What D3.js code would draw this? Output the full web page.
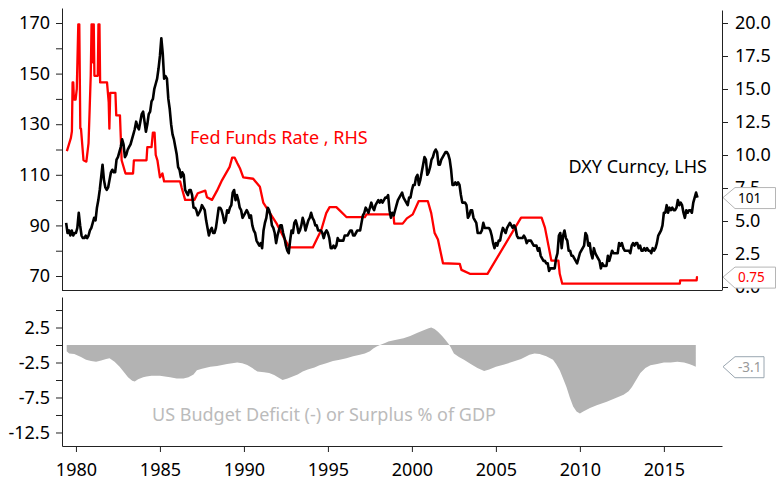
<!DOCTYPE html>
<head>
    <style>
        * {
            padding: 0;
            margin: 0;
        }
        body {
            background: white;
        }
        svg text {
            font-family: "Noto Sans", sans-serif;
        }
    </style>
    <script src="https://cdn.jsdelivr.net/npm/d3@7"></script>
</head>

<body>
    <script>

        /////////////////////////////////////////////////////
        // DATA
        /////////////////////////////////////////////////////

        //DXY monthly, from Jun 1979 to Jan 2017
        const dxyStart = 1979 + 5 / 12
        const dxyValues = [
            91, 87, 88, 86, 88, 86, 87,
            87, 89, 95, 90, 86, 85, 85, 86, 85, 86, 88, 89,
            91, 93, 92, 97, 100, 104, 109, 114, 108, 105, 104, 105,
            108, 111, 112, 111, 111, 116, 117, 119, 121, 124, 122, 117,
            118, 120, 121, 122, 124, 126, 128, 131, 129, 128, 131, 134,
            135, 131, 127, 130, 134, 135, 139, 140, 144, 146, 148, 152,
            157, 164, 158, 148, 149, 148, 140, 136, 130, 126, 124, 121,
            118, 113, 112, 109, 111, 110, 104, 103, 102, 104, 104, 102,
            97, 97, 96, 94, 95, 96, 98, 97, 96, 92, 89, 86,
            88, 89, 87, 87, 89, 93, 97, 97, 96, 94, 91, 92,
            96, 95, 97, 98, 103, 104, 100, 102, 100, 97, 96, 93,
            94, 95, 96, 95, 93, 94, 90, 88, 87, 84, 83, 82,
            83, 81, 88, 91, 93, 97, 96, 94, 90, 89, 87, 83,
            86, 88, 90, 90, 87, 85, 82, 80, 79, 84, 88, 87,
            91, 92, 90, 87, 88, 90, 93, 91, 88, 90, 92, 93,
            95, 93, 92, 90, 90, 88, 88, 88, 87, 85, 87, 88,
            87, 85, 81, 81, 82, 81, 82, 85, 84, 84, 84, 84,
            86, 86, 86, 87, 88, 88, 86, 86, 87, 88, 88, 88,
            91, 94, 95, 97, 96, 95, 97, 99, 97, 96, 98, 99,
            100, 99, 100, 99, 100, 101, 101, 102, 96, 93, 95, 94,
            96, 98, 100, 101, 102, 103, 101, 100, 99, 98, 101, 101,
            104, 106, 106, 109, 110, 106, 108, 111, 114, 117, 116, 110,
            111, 113, 116, 117, 119, 120, 119, 114, 114, 116, 117, 118,
            119, 119, 118, 116, 112, 106, 106, 107, 106, 107, 106, 102,
            99, 99, 99, 98, 93, 94, 96, 96, 93, 92, 91, 87,
            87, 87, 88, 91, 89, 89, 89, 89, 88, 86, 83, 81,
            83, 82, 84, 84, 87, 89, 88, 87, 89, 90, 91, 90,
            89, 90, 89, 86, 85, 85, 85, 85, 86, 85, 83, 84,
            84, 84, 83, 82, 82, 82, 80, 81, 78, 77, 76, 76,
            75, 75, 72, 73, 73, 73, 73, 77, 79, 86, 87, 81,
            86, 88, 85, 84, 80, 80, 78, 78, 77, 76, 75, 77,
            79, 80, 81, 82, 87, 86, 82, 83, 79, 77, 81, 79,
            78, 77, 76, 73, 75, 74, 74, 74, 78, 76, 78, 80,
            79, 79, 79, 79, 83, 82, 83, 81, 80, 80, 80, 80,
            79, 82, 83, 82, 83, 83, 81, 82, 80, 80, 81, 80,
            81, 80, 80, 79, 81, 80, 81, 83, 86, 87, 88, 90,
            95, 95, 98, 95, 97, 96, 97, 96, 96, 97, 100, 98,
            99, 98, 95, 93, 96, 95, 96, 96, 95, 99, 101, 103,
            101
        ]

        //Fed funds rate, change points
        const ffYears = [
            1979.46, 1979.70, 1979.76, 1979.80, 1979.84, 1979.88, 1979.98, 1980.05, 1980.14, 1980.20,
            1980.26, 1980.30, 1980.45, 1980.62, 1980.75, 1980.82, 1980.88, 1980.93, 1980.98, 1981.02,
            1981.06, 1981.10, 1981.30, 1981.34, 1981.40, 1981.44, 1981.85, 1981.95, 1981.99, 1982.04,
            1982.35, 1982.40, 1982.62, 1982.72, 1982.95, 1983.40, 1983.45, 1984.20, 1984.25, 1984.50,
            1984.58, 1984.68, 1984.75, 1984.85, 1985.00, 1985.15, 1985.25, 1986.20, 1986.30, 1986.50,
            1987.05, 1987.25, 1987.70, 1987.80, 1988.10, 1988.40, 1988.70, 1989.15, 1989.30, 1989.45,
            1989.60, 1989.76, 1989.96, 1990.55, 1990.95, 1991.15, 1991.55, 1991.95, 1992.35, 1992.70,
            1994.10, 1994.33, 1994.60, 1994.90, 1995.10, 1995.50, 1995.70, 1996.10, 1997.20, 1997.30,
            1998.90, 1998.95, 1999.45, 1999.70, 2000.05, 2000.40, 2000.95, 2001.15, 2001.35, 2001.55,
            2001.85, 2002.85, 2002.95, 2003.45, 2004.50, 2006.50, 2007.72, 2007.92, 2008.15, 2008.30,
            2008.72, 2008.80, 2008.95, 2015.95, 2015.97, 2016.95, 2016.97, 2017.02
        ]
        const ffRates = [
            10.3, 11.3, 11.8, 15.5, 15.5, 14.2, 14.2, 15.0, 19.9, 19.9,
            12.0, 12.0, 9.6, 9.5, 10.9, 13.6, 16.0, 19.9, 19.9, 17.0,
            19.9, 16.0, 16.0, 19.9, 19.9, 15.5, 15.5, 14.0, 12.0, 14.7,
            14.7, 13.0, 13.0, 9.6, 8.6, 8.6, 9.6, 9.6, 10.6, 10.6,
            11.7, 11.7, 10.0, 9.6, 8.3, 8.6, 8.0, 8.0, 7.5, 6.6,
            6.6, 7.1, 7.3, 6.8, 6.6, 7.3, 8.1, 9.1, 9.8, 9.8,
            9.4, 9.0, 8.3, 8.2, 7.6, 6.4, 5.6, 4.8, 3.8, 3.0,
            3.0, 3.6, 4.3, 5.6, 6.05, 6.05, 5.8, 5.3, 5.3, 5.5,
            5.5, 4.8, 4.8, 5.2, 5.5, 6.5, 6.5, 5.6, 4.1, 3.6,
            1.8, 1.75, 1.3, 1.0, 1.0, 5.25, 5.25, 4.5, 3.0, 2.0,
            2.0, 1.0, 0.25, 0.25, 0.5, 0.5, 0.75, 0.75
        ]

        //US budget balance, % of GDP
        const budgetYears = [
            1979.45, 1979.6, 1979.9, 1980.3, 1980.6, 1980.9, 1981.2, 1981.5, 1981.8, 1982.0,
            1982.3, 1982.6, 1982.9, 1983.1, 1983.35, 1983.5, 1983.7, 1984.0, 1984.2, 1984.5,
            1984.8, 1985.0, 1985.3, 1985.6, 1986.0, 1986.4, 1986.7, 1987.0, 1987.2, 1987.5,
            1988.0, 1988.4, 1988.7, 1989.0, 1989.3, 1989.6, 1989.9, 1990.2, 1990.5, 1990.8,
            1991.2, 1991.5, 1991.8, 1992.1, 1992.3, 1992.6, 1992.9, 1993.2, 1993.5, 1993.8,
            1994.2, 1994.5, 1994.9, 1995.3, 1995.7, 1996.1, 1996.5, 1996.9, 1997.2, 1997.5,
            1997.7, 1997.9, 1998.1, 1998.4, 1998.6, 1999.0, 1999.5, 1999.9, 2000.3, 2000.7,
            2001.0, 2001.15, 2001.35, 2001.55, 2001.8, 2002.0, 2002.2, 2002.3, 2002.5, 2002.8,
            2003.1, 2003.5, 2003.9, 2004.3, 2004.6, 2005.0, 2005.5, 2006.0, 2006.5, 2007.0,
            2007.3, 2007.6, 2008.0, 2008.4, 2008.6, 2008.8, 2009.0, 2009.2, 2009.4, 2009.6,
            2009.8, 2010.0, 2010.2, 2010.6, 2011.0, 2011.6, 2012.1, 2012.6, 2012.9, 2013.1,
            2013.35, 2013.6, 2013.9, 2014.2, 2014.6, 2015.0, 2015.4, 2015.8, 2016.2, 2016.5,
            2016.7, 2016.9
        ]
        const budgetValues = [
            -0.9, -1.2, -1.3, -1.7, -2.1, -2.3, -2.4, -2.2, -2.0, -1.9,
            -2.4, -3.1, -4.0, -4.6, -5.1, -5.2, -4.9, -4.6, -4.5, -4.4,
            -4.4, -4.4, -4.5, -4.6, -4.8, -4.8, -4.6, -4.2, -3.6, -3.4,
            -3.1, -3.0, -2.85, -2.7, -2.6, -2.5, -2.6, -2.85, -3.3, -3.8,
            -3.9, -4.0, -4.3, -4.7, -5.0, -4.8, -4.5, -4.2, -3.8, -3.5,
            -3.2, -2.9, -2.6, -2.3, -2.1, -1.9, -1.6, -1.4, -1.2, -0.9,
            -0.5, -0.2, 0.0, 0.3, 0.5, 0.7, 0.95, 1.3, 1.7, 2.1,
            2.4, 2.5, 2.3, 1.9, 1.3, 0.7, 0.1, -0.3, -1.2, -1.7,
            -2.1, -2.7, -3.3, -3.7, -3.5, -3.1, -2.8, -2.4, -2.0, -1.4,
            -1.2, -1.3, -1.6, -2.1, -2.8, -3.6, -4.8, -6.0, -7.5, -8.8,
            -9.5, -9.8, -9.5, -9.0, -8.6, -8.1, -7.6, -7.1, -6.6, -6.0,
            -5.0, -4.0, -3.3, -2.9, -2.7, -2.5, -2.5, -2.4, -2.5, -2.7,
            -2.9, -3.1
        ]

        //Tick values
        const dxyTicks = [70, 80, 90, 100, 110, 120, 130, 140, 150, 160, 170]
        const ffTicks = [0, 2.5, 5, 7.5, 10, 12.5, 15, 17.5, 20]
        const budgetTicks = [5, 2.5, 0, -2.5, -5, -7.5, -10, -12.5]
        const yearTicks = [1980, 1985, 1990, 1995, 2000, 2005, 2010, 2015]

        //Last values shown in the right hand tags
        const lastDxy = 101
        const lastFf = 0.75
        const lastBudget = -3.1

        /////////////////////////////////////////////////////
        // SETUP
        /////////////////////////////////////////////////////

        const width = 776
        const height = 480
        const left = 62
        const right = 722

        const svg = d3.select("body").append("svg")
            .attr("width", width)
            .attr("height", height)

        const x = d3.scaleLinear().domain([1979.17, 2018.46]).range([left, right])
        const yL = d3.scaleLinear().domain([64.47, 175.93]).range([290, 8])
        const yR = d3.scaleLinear().domain([-0.227, 20.985]).range([290, 10])
        const yB = d3.scaleLinear().domain([-14.43, 6.86]).range([446, 297])

        const dxyData = dxyValues.map((v, i) => ({ t: dxyStart + i / 12, v: v }))
        const ffData = ffYears.map((t, i) => ({ t: t, v: ffRates[i] }))
        const budgetData = budgetYears.map((t, i) => ({ t: t, v: budgetValues[i] }))

        /////////////////////////////////////////////////////
        // AXES
        /////////////////////////////////////////////////////

        function styleAxis(g) {
            g.selectAll("path, line").attr("stroke", "#222").attr("stroke-width", 1)
            g.selectAll("text").attr("fill", "#000").style("font-size", "18px")
        }

        svg.append("g")
            .attr("transform", `translate(${left},0)`)
            .call(d3.axisLeft(yL).tickValues(dxyTicks).tickSize(6).tickSizeOuter(0).tickPadding(6)
                .tickFormat(d => (d - 70) % 20 === 0 ? d : ""))
            .call(styleAxis)

        svg.append("g")
            .attr("transform", `translate(${right},0)`)
            .call(d3.axisRight(yR).tickValues(ffTicks).tickSize(6).tickSizeOuter(0).tickPadding(7)
                .tickFormat(d3.format(".1f")))
            .call(styleAxis)

        //bottom line of the top panel
        svg.append("line")
            .attr("x1", left).attr("x2", right)
            .attr("y1", 290.5).attr("y2", 290.5)
            .attr("stroke", "#222")

        svg.append("g")
            .attr("transform", `translate(${left},0)`)
            .call(d3.axisLeft(yB).tickValues(budgetTicks).tickSize(6).tickSizeOuter(0).tickPadding(6)
                .tickFormat(d => (d === 2.5 || d === -2.5 || d === -7.5 || d === -12.5) ? d : ""))
            .call(styleAxis)

        svg.append("g")
            .attr("transform", `translate(0,446)`)
            .call(d3.axisBottom(x).tickValues(yearTicks).tickSize(6).tickSizeOuter(0).tickPadding(11)
                .tickFormat(d3.format("d")))
            .call(styleAxis)

        /////////////////////////////////////////////////////
        // SERIES
        /////////////////////////////////////////////////////

        const area = d3.area()
            .x(d => x(d.t))
            .y0(yB(0))
            .y1(d => yB(d.v))

        svg.append("path")
            .datum(budgetData)
            .attr("d", area)
            .attr("fill", "#b3b3b3")

        const ffLine = d3.line()
            .x(d => x(d.t))
            .y(d => yR(d.v))

        svg.append("path")
            .datum(ffData)
            .attr("d", ffLine)
            .attr("fill", "none")
            .attr("stroke", "#ff0000")
            .attr("stroke-width", 2.3)
            .attr("stroke-linejoin", "round")

        const dxyLine = d3.line()
            .x(d => x(d.t))
            .y(d => yL(d.v))

        svg.append("path")
            .datum(dxyData)
            .attr("d", dxyLine)
            .attr("fill", "none")
            .attr("stroke", "#000")
            .attr("stroke-width", 2.6)
            .attr("stroke-linejoin", "round")

        /////////////////////////////////////////////////////
        // LABELS
        /////////////////////////////////////////////////////

        svg.append("text")
            .attr("x", 190).attr("y", 144)
            .attr("fill", "#ff0000")
            .style("font-size", "18px")
            .text("Fed Funds Rate , RHS")

        svg.append("text")
            .attr("x", 707).attr("y", 173)
            .attr("text-anchor", "end")
            .attr("fill", "#000")
            .style("font-size", "18px")
            .text("DXY Curncy, LHS")

        svg.append("text")
            .attr("x", 152).attr("y", 421)
            .attr("fill", "#bbbbbb")
            .style("font-size", "18px")
            .text("US Budget Deficit (-) or Surplus % of GDP")

        //value tags on the right
        function tag(yPos, boxRight, label, textColor, borderColor) {
            const tip = 723, bx = 735
            const pts = [[tip, yPos], [bx, yPos - 10], [boxRight, yPos - 10], [boxRight, yPos + 11], [bx, yPos + 11]]
            svg.append("path")
                .attr("d", "M" + pts.map(p => p.join(",")).join("L") + "Z")
                .attr("fill", "white")
                .attr("stroke", borderColor)
                .attr("stroke-width", 1)
            svg.append("text")
                .attr("x", 738).attr("y", yPos + 5)
                .attr("fill", textColor)
                .style("font-size", "13.5px")
                .text(label)
        }

        tag(yL(lastDxy), 775.5, lastDxy, "#000", "#b5b5b5")
        tag(yR(lastFf), 775.5, lastFf, "#ff0000", "#b5b5b5")
        tag(yB(lastBudget), 764, lastBudget, "#999", "#9aa6b0")

    </script>
</body>
